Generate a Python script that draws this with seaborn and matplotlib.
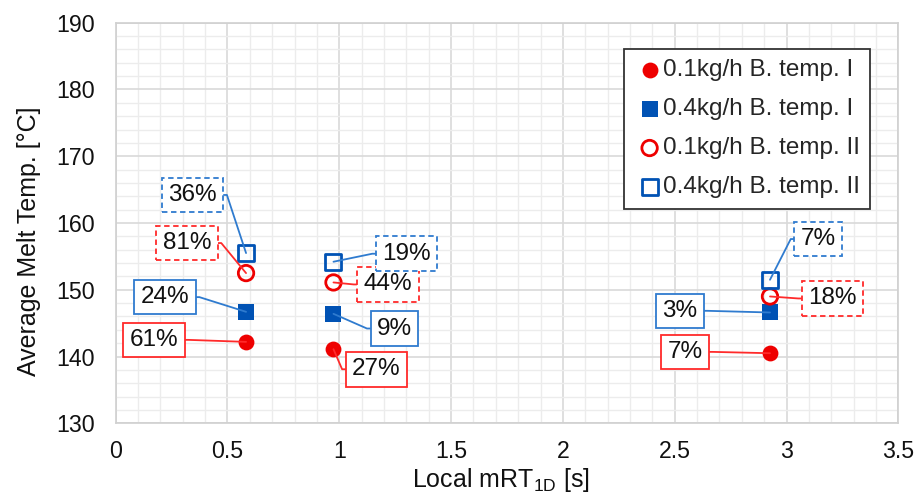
import numpy as np
import pandas as pd
import matplotlib
matplotlib.use("Agg")
import matplotlib.pyplot as plt
import seaborn as sns
from matplotlib.ticker import MultipleLocator, FuncFormatter

# ---- data ----
x_vals = [0.583, 0.974, 2.926]
temp_01_I = [142.2, 141.1, 140.5]
temp_04_I = [146.7, 146.4, 146.6]
temp_01_II = [152.5, 151.1, 149.0]
temp_04_II = [155.5, 154.2, 151.5]
series_names = ["0.1kg/h B. temp. I", "0.4kg/h B. temp. I",
                "0.1kg/h B. temp. II", "0.4kg/h B. temp. II"]
pct_01_I = ["61%", "27%", "7%"]
pct_04_I = ["24%", "9%", "3%"]
pct_01_II = ["81%", "44%", "18%"]
pct_04_II = ["36%", "19%", "7%"]

# label box centres (layout)
lbl_01_I = [(0.171, 142.5), (1.166, 138.1), (2.547, 140.7)]
lbl_04_I = [(0.221, 148.9), (1.247, 144.2), (2.523, 146.85)]
lbl_01_II = [(0.319, 157.0), (1.218, 150.8), (3.206, 148.7)]
lbl_04_II = [(0.344, 164.2), (1.301, 155.4), (3.142, 157.6)]

RED = "#EE0000"
BLUE = "#0052B4"
LRED = "#FF2A2A"
LBLUE = "#2F7BCF"

sns.set_theme(style="white")
plt.rcParams["font.family"] = ["Liberation Sans", "DejaVu Sans"]
plt.rcParams["mathtext.fontset"] = "custom"
plt.rcParams["mathtext.rm"] = "Liberation Sans"

fig = plt.figure(figsize=(9.21, 4.93), dpi=100)
ax = fig.add_axes([0.1256, 0.1413, 0.8498, 0.8127])

series = [
    (temp_01_I, series_names[0], "o", RED, True, 130),
    (temp_04_I, series_names[1], "s", BLUE, True, 140),
    (temp_01_II, series_names[2], "o", RED, False, 130),
    (temp_04_II, series_names[3], "s", BLUE, False, 140),
]
for vals, name, mk, col, filled, s in series:
    df = pd.DataFrame({"x": x_vals, "y": vals})
    if filled:
        sns.scatterplot(data=df, x="x", y="y", marker=mk, s=s, color=col,
                        edgecolor=col, linewidth=0, label=name, ax=ax, zorder=4)
    else:
        sns.scatterplot(data=df, x="x", y="y", marker=mk, s=s * 0.95, color=col,
                        facecolor="none", edgecolor=col, linewidth=2.0,
                        label=name, ax=ax, zorder=4)

def annotate(xs, ys, labels, positions, col, dashed):
    for x, y, t, (lx, ly) in zip(xs, ys, labels, positions):
        left = lx < x
        ax.annotate(
            t, xy=(x, y), xytext=(lx, ly), textcoords="data",
            ha="center", va="center", fontsize=17.5, color="#111111", zorder=5,
            bbox=dict(boxstyle="square,pad=0.26", fc="white", ec=col, lw=1.3,
                      ls=(0, (3, 2)) if dashed else "-"),
            arrowprops=dict(arrowstyle="-", color=col, lw=1.3,
                            relpos=(1, 0.5) if left else (0, 0.5),
                            connectionstyle="arc,angleA=%d,angleB=0,armA=10,armB=0,rad=0"
                            % (0 if left else 180),
                            shrinkA=0, shrinkB=0),
        )

annotate(x_vals, temp_01_I, pct_01_I, lbl_01_I, LRED, False)
annotate(x_vals, temp_04_I, pct_04_I, lbl_04_I, LBLUE, False)
annotate(x_vals, temp_01_II, pct_01_II, lbl_01_II, LRED, True)
annotate(x_vals, temp_04_II, pct_04_II, lbl_04_II, LBLUE, True)

ax.set_xlim(0, 3.5)
ax.set_ylim(130, 190)
ax.xaxis.set_major_locator(MultipleLocator(0.5))
ax.xaxis.set_minor_locator(MultipleLocator(0.1))
ax.yaxis.set_major_locator(MultipleLocator(10))
ax.yaxis.set_minor_locator(MultipleLocator(2))
ax.xaxis.set_major_formatter(FuncFormatter(lambda v, p: "%g" % v))
ax.grid(which="major", color="#d9d9d9", lw=1.2, zorder=0)
ax.grid(which="minor", color="#ececec", lw=1.0, zorder=0)
ax.set_axisbelow(True)
for sp in ax.spines.values():
    sp.set_color("#d0d0d0")
    sp.set_linewidth(1.2)
ax.tick_params(which="both", length=0, labelsize=16.7, colors="#111111")
ax.tick_params(axis="y", pad=15)
ax.tick_params(axis="x", pad=12)

ax.set_xlabel(r"Local mRT$_{\mathregular{1D}}$ [s]", fontsize=18, color="#111111", labelpad=2)
ax.set_ylabel("Average Melt Temp. [°C]", fontsize=18, color="#111111", labelpad=11)
ax.xaxis.label.set_x(0.492)
ax.yaxis.label.set_y(0.454)

leg = ax.legend(loc="upper right", bbox_to_anchor=(0.964, 0.934), fontsize=17.5,
                frameon=True, fancybox=False, edgecolor="#333333", framealpha=1,
                handlelength=1.3, handletextpad=-0.1, labelspacing=0.7,
                borderpad=0.42, borderaxespad=0, markerscale=1.0)
leg.get_frame().set_linewidth(1.3)
leg.set_zorder(6)

fig.savefig("out.png", dpi=100)
